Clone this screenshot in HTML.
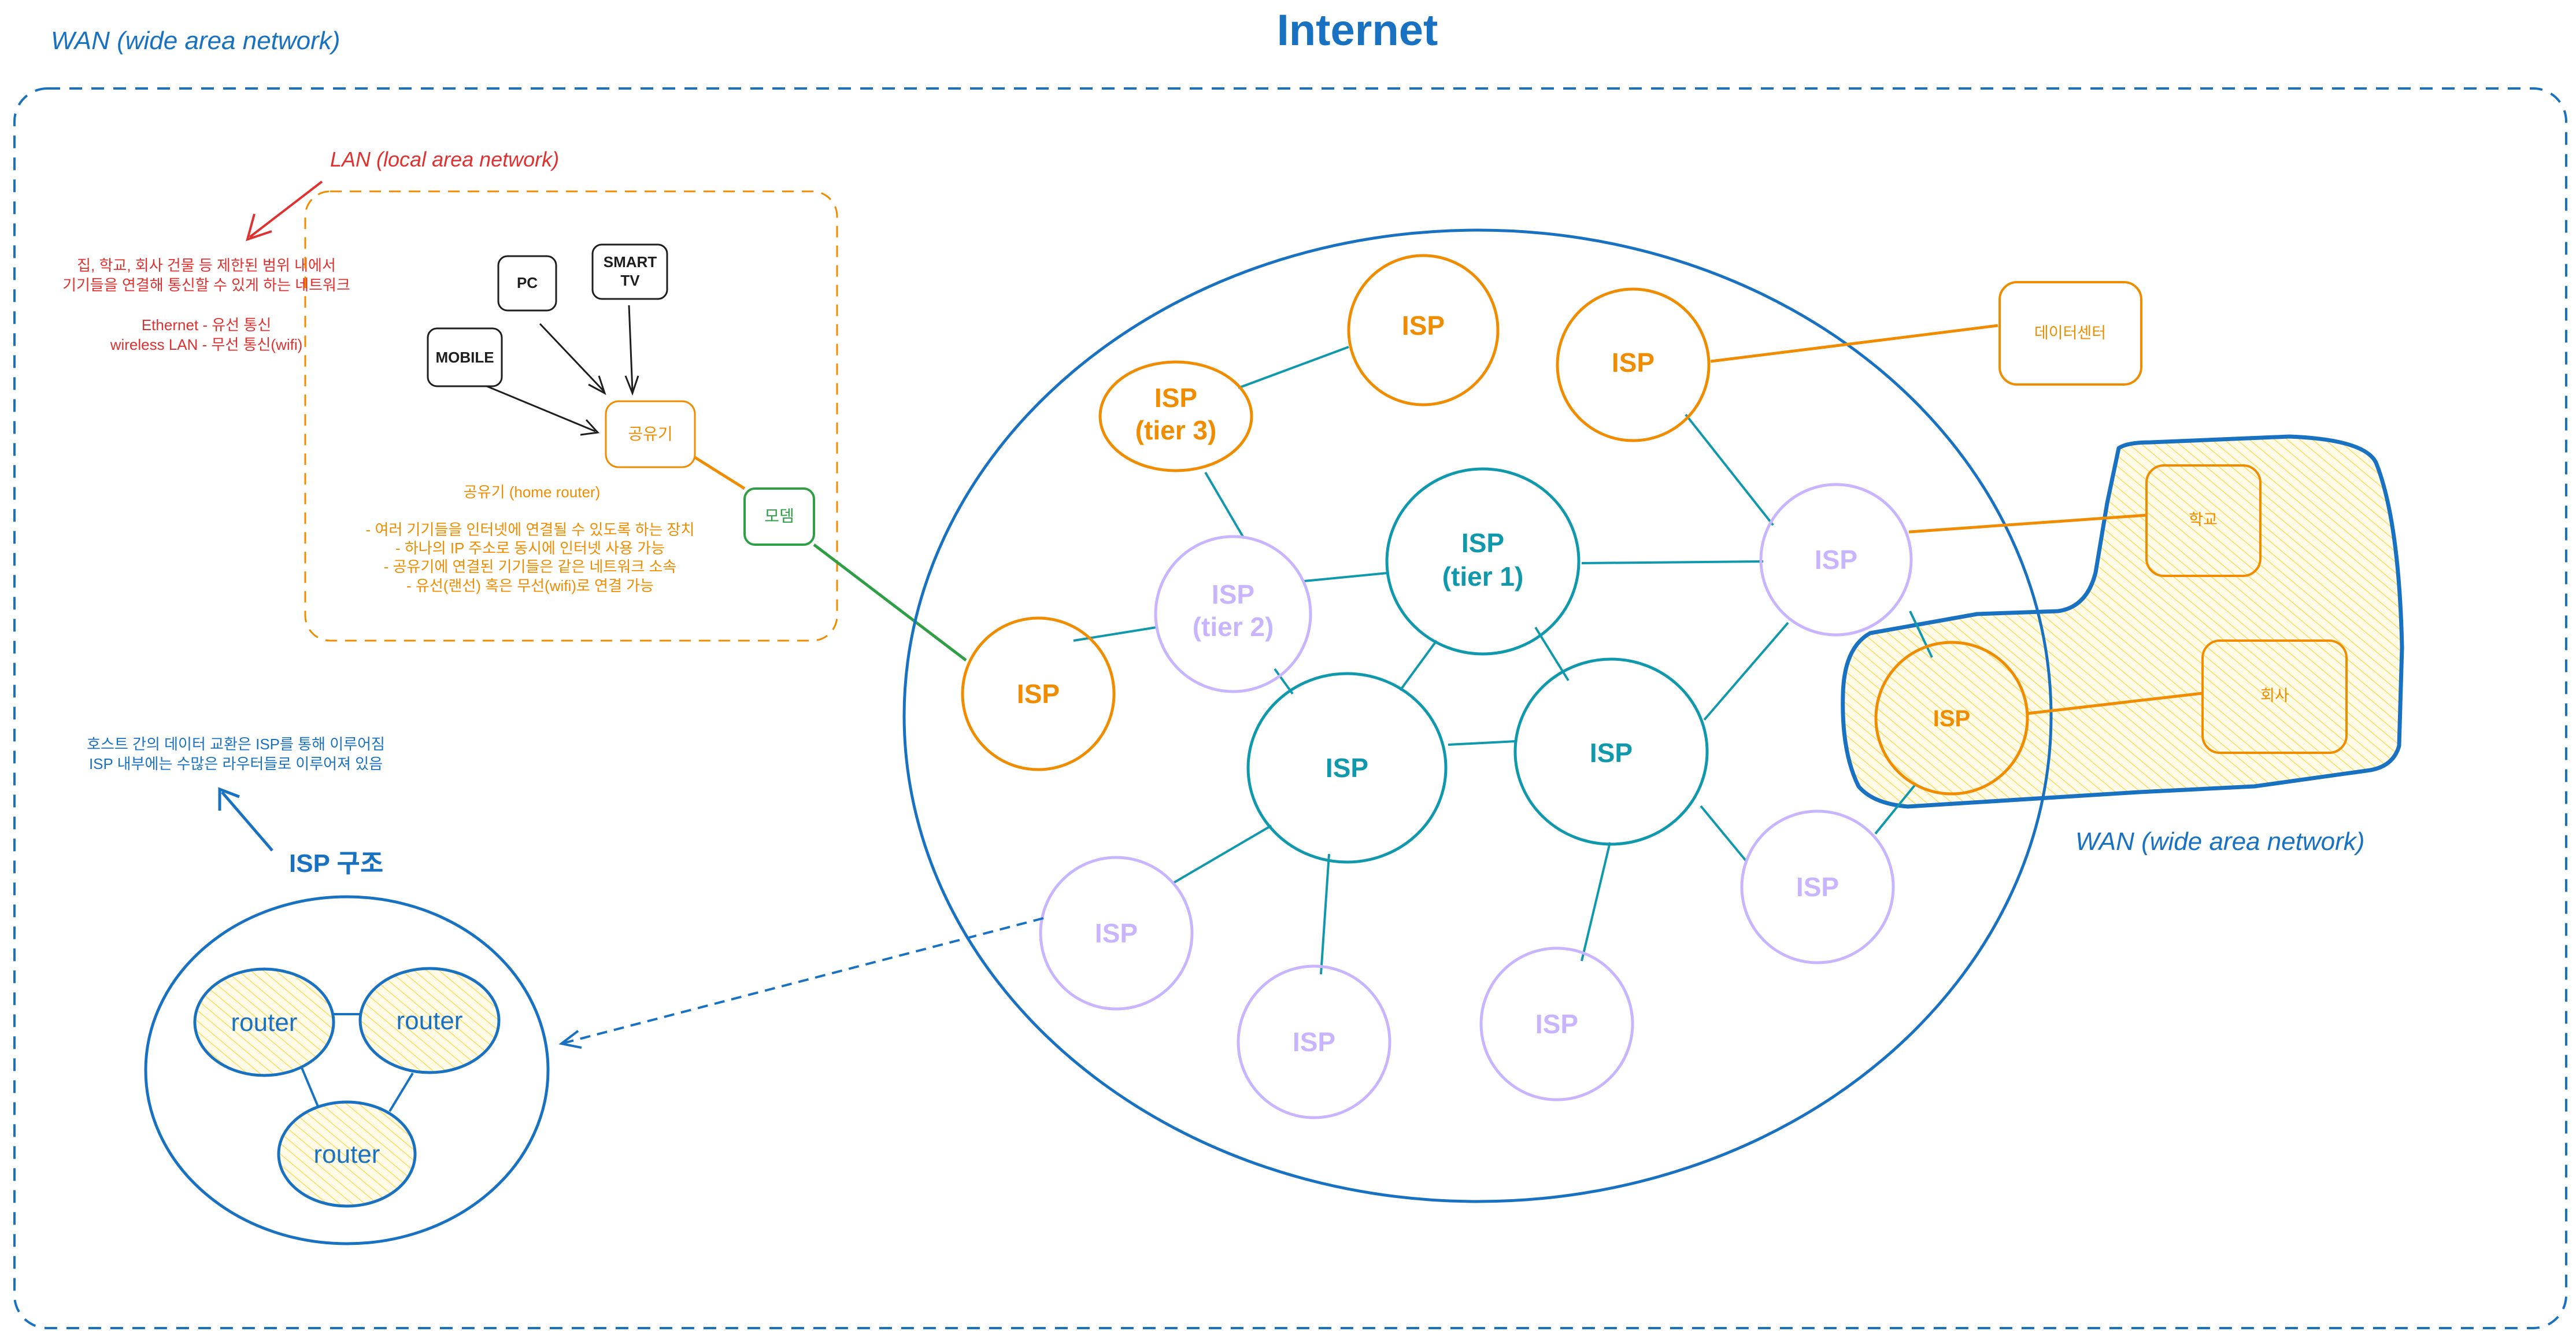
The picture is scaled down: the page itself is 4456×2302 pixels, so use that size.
<!DOCTYPE html>
<html><head><meta charset="utf-8"><style>
html,body{margin:0;padding:0;background:#fff;}
svg{display:block;}
text{font-family:"Liberation Sans","Noto Sans CJK KR",sans-serif;}
</style></head><body>
<svg width="4456" height="2302" viewBox="0 0 4456 2302" xmlns="http://www.w3.org/2000/svg">
<defs>
<pattern id="hatch" width="14" height="14" patternUnits="userSpaceOnUse" patternTransform="rotate(-50)">
<rect width="14" height="14" fill="#fffbe6"/>
<line x1="0" y1="0" x2="0" y2="14" stroke="#ffd966" stroke-width="3"/>
</pattern>
</defs>

<text x="2348" y="78" font-size="76" fill="#1971c2" text-anchor="middle" font-weight="bold">Internet</text>
<text x="88" y="85" font-size="44" fill="#1971c2" font-style="italic">WAN (wide area network)</text>

<rect x="25" y="153" width="4414" height="2144" rx="57" fill="none" stroke="#1971c2" stroke-width="4" stroke-dasharray="22 16"/>

<text x="571" y="288" font-size="36" fill="#e03131" font-style="italic">LAN (local area network)</text>
<line x1="557" y1="314" x2="432" y2="410" stroke="#e03131" stroke-width="4"/>
<path d="M440,370 L428,414 L470,400" fill="none" stroke="#e03131" stroke-width="4"/>
<g font-size="26" fill="#e03131" text-anchor="middle">
<text x="357" y="468">집, 학교, 회사 건물 등 제한된 범위 내에서</text>
<text x="357" y="502">기기들을 연결해 통신할 수 있게 하는 네트워크</text>
<text x="357" y="571">Ethernet - 유선 통신</text>
<text x="357" y="605">wireless LAN - 무선 통신(wifi)</text>
</g>

<rect x="528" y="331" width="920" height="777" rx="43" fill="none" stroke="#f08c00" stroke-width="3" stroke-dasharray="20 14"/>
<g fill="none" stroke="#1e1e1e" stroke-width="3">
<rect x="862" y="443" width="100" height="94" rx="16"/>
<rect x="1025" y="423" width="129" height="94" rx="16"/>
<rect x="740" y="568" width="128" height="100" rx="16"/>
</g>
<g font-size="26" fill="#1e1e1e" text-anchor="middle" font-weight="bold">
<text x="912" y="498">PC</text>
<text x="1090" y="462">SMART</text>
<text x="1090" y="494">TV</text>
<text x="804" y="627">MOBILE</text>
</g>
<g stroke="#1e1e1e" stroke-width="3" fill="none">
<line x1="934" y1="560" x2="1044" y2="676"/><path d="M1018,665 L1046,680 L1036,650"/>
<line x1="1088" y1="528" x2="1094" y2="676"/><path d="M1082,650 L1094,680 L1104,650"/>
<line x1="842" y1="668" x2="1030" y2="746"/><path d="M1004,752 L1034,748 L1014,726"/>
</g>
<rect x="1048" y="694" width="154" height="114" rx="22" fill="none" stroke="#f08c00" stroke-width="3"/>
<text x="1125" y="760" font-size="28" fill="#f08c00" text-anchor="middle">공유기</text>
<line x1="1202" y1="791" x2="1288" y2="845" stroke="#f08c00" stroke-width="5"/>
<rect x="1288" y="845" width="120" height="97" rx="18" fill="none" stroke="#2f9e44" stroke-width="4"/>
<text x="1348" y="902" font-size="28" fill="#2f9e44" text-anchor="middle">모뎀</text>
<line x1="1408" y1="942" x2="1671" y2="1142" stroke="#2f9e44" stroke-width="5"/>
<g font-size="26" fill="#f08c00" text-anchor="middle">
<text x="920" y="860">공유기 (home router)</text>
<text x="917" y="925">- 여러 기기들을 인터넷에 연결될 수 있도록 하는 장치</text>
<text x="917" y="957">- 하나의 IP 주소로 동시에 인터넷 사용 가능</text>
<text x="917" y="989">- 공유기에 연결된 기기들은 같은 네트워크 소속</text>
<text x="917" y="1022">- 유선(랜선) 혹은 무선(wifi)로 연결 가능</text>
</g>

<path d="M3665,775 Q3680,765 3720,765 L3960,755 Q4090,760 4110,800 Q4150,900 4155,1120 L4150,1290 Q4140,1325 4100,1332 L3900,1360 L3700,1370 L3300,1395 Q3240,1390 3215,1360 Q3185,1300 3188,1200 Q3190,1120 3235,1095 L3420,1062 L3560,1057 Q3610,1050 3625,990 L3645,870 Z" fill="url(#hatch)" stroke="#1971c2" stroke-width="7" stroke-linejoin="round"/>
<text x="3590" y="1470" font-size="44" fill="#1971c2" font-style="italic">WAN (wide area network)</text>

<ellipse cx="2556" cy="1238" rx="992" ry="840" fill="none" stroke="#1971c2" stroke-width="5"/>

<g stroke="#1098ad" stroke-width="4">
<line x1="2333" y1="600" x2="2142" y2="671"/>
<line x1="2085" y1="817" x2="2150" y2="928"/>
<line x1="2256" y1="1005" x2="2400" y2="991"/>
<line x1="1857" y1="1108" x2="2000" y2="1085"/>
<line x1="2736" y1="974" x2="3050" y2="971"/>
<line x1="2485" y1="1108" x2="2422" y2="1194"/>
<line x1="2656" y1="1085" x2="2713" y2="1177"/>
<line x1="2205" y1="1157" x2="2236" y2="1200"/>
<line x1="2505" y1="1288" x2="2622" y2="1282"/>
<line x1="2948" y1="1245" x2="3093" y2="1077"/>
<line x1="2916" y1="717" x2="3067" y2="908"/>
<line x1="2199" y1="1428" x2="2028" y2="1528"/>
<line x1="2299" y1="1477" x2="2285" y2="1685"/>
<line x1="2785" y1="1457" x2="2736" y2="1662"/>
<line x1="2942" y1="1394" x2="3022" y2="1491"/>
<line x1="3304" y1="1057" x2="3342" y2="1137"/>
<line x1="3313" y1="1357" x2="3244" y2="1442"/>
</g>
<g stroke="#f08c00" stroke-width="5">
<line x1="2959" y1="625" x2="3456" y2="563"/>
<line x1="3302" y1="920" x2="3713" y2="891"/>
<line x1="3507" y1="1234" x2="3810" y2="1199"/>
</g>

<g fill="none" stroke="#f08c00" stroke-width="4">
<rect x="3459" y="488" width="245" height="177" rx="30" fill="#fff"/>
<rect x="3713" y="805" width="197" height="191" rx="30"/>
<rect x="3810" y="1108" width="249" height="194" rx="30"/>
</g>
<g font-size="27" fill="#f08c00" text-anchor="middle">
<text x="3581" y="585">데이터센터</text>
<text x="3811" y="908">학교</text>
<text x="3935" y="1212">회사</text>
</g>

<g fill="none" stroke-width="5">
<circle cx="1796" cy="1200" r="131" stroke="#f08c00"/>
<ellipse cx="2034" cy="720" rx="131" ry="94" stroke="#f08c00"/>
<circle cx="2462" cy="571" r="129" stroke="#f08c00"/>
<circle cx="2825" cy="631" r="131" stroke="#f08c00"/>
<circle cx="3376" cy="1242" r="131" stroke="#f08c00"/>
<circle cx="2133" cy="1062" r="134" stroke="#c8b4ff"/>
<ellipse cx="2565" cy="971" rx="166" ry="160" stroke="#1098ad"/>
<ellipse cx="2330" cy="1328" rx="171" ry="163" stroke="#1098ad"/>
<ellipse cx="2787" cy="1300" rx="166" ry="160" stroke="#1098ad"/>
<circle cx="3176" cy="968" r="130" stroke="#c8b4ff"/>
<circle cx="1931" cy="1614" r="131" stroke="#c8b4ff"/>
<circle cx="2273" cy="1802" r="131" stroke="#c8b4ff"/>
<circle cx="2693" cy="1771" r="131" stroke="#c8b4ff"/>
<circle cx="3144" cy="1534" r="131" stroke="#c8b4ff"/>
</g>
<g font-size="46" text-anchor="middle" font-weight="bold">
<text x="1796" y="1216" fill="#f08c00">ISP</text>
<text x="2034" y="704" fill="#f08c00">ISP</text>
<text x="2034" y="760" fill="#f08c00">(tier 3)</text>
<text x="2462" y="579" fill="#f08c00">ISP</text>
<text x="2825" y="643" fill="#f08c00">ISP</text>
<text x="3376" y="1256" fill="#f08c00" font-size="40">ISP</text>
<text x="2133" y="1044" fill="#c8b4ff">ISP</text>
<text x="2133" y="1100" fill="#c8b4ff">(tier 2)</text>
<text x="2565" y="955" fill="#1098ad">ISP</text>
<text x="2565" y="1013" fill="#1098ad">(tier 1)</text>
<text x="2330" y="1344" fill="#1098ad">ISP</text>
<text x="2787" y="1318" fill="#1098ad">ISP</text>
<text x="3176" y="984" fill="#c8b4ff">ISP</text>
<text x="1931" y="1630" fill="#c8b4ff">ISP</text>
<text x="2273" y="1818" fill="#c8b4ff">ISP</text>
<text x="2693" y="1787" fill="#c8b4ff">ISP</text>
<text x="3144" y="1550" fill="#c8b4ff">ISP</text>
</g>

<line x1="1805" y1="1588" x2="975" y2="1804" stroke="#1971c2" stroke-width="4" stroke-dasharray="18 12"/>
<path d="M1000,1783 L971,1805 L1006,1812" fill="none" stroke="#1971c2" stroke-width="4"/>

<text x="500" y="1508" font-size="44" fill="#1971c2" font-weight="bold">ISP 구조</text>
<line x1="471" y1="1471" x2="384" y2="1370" stroke="#1971c2" stroke-width="5"/>
<path d="M380,1402 L380,1365 L414,1378" fill="none" stroke="#1971c2" stroke-width="5"/>
<g font-size="26" fill="#1971c2" text-anchor="middle">
<text x="408" y="1296">호스트 간의 데이터 교환은 ISP를 통해 이루어짐</text>
<text x="408" y="1330">ISP 내부에는 수많은 라우터들로 이루어져 있음</text>
</g>
<ellipse cx="600" cy="1851" rx="348" ry="300" fill="none" stroke="#1971c2" stroke-width="5"/>
<g stroke="#1971c2" stroke-width="4">
<line x1="577" y1="1754" x2="623" y2="1754"/>
<line x1="520" y1="1842" x2="551" y2="1916"/>
<line x1="714" y1="1856" x2="674" y2="1922"/>
</g>
<g fill="url(#hatch)" stroke="#1971c2" stroke-width="5">
<ellipse cx="457" cy="1768" rx="120" ry="92"/>
<ellipse cx="743" cy="1765" rx="120" ry="90"/>
<ellipse cx="600" cy="1996" rx="118" ry="90"/>
</g>
<g font-size="44" fill="#1971c2" text-anchor="middle">
<text x="457" y="1783">router</text>
<text x="743" y="1780">router</text>
<text x="600" y="2011">router</text>
</g>
</svg>
</body></html>
